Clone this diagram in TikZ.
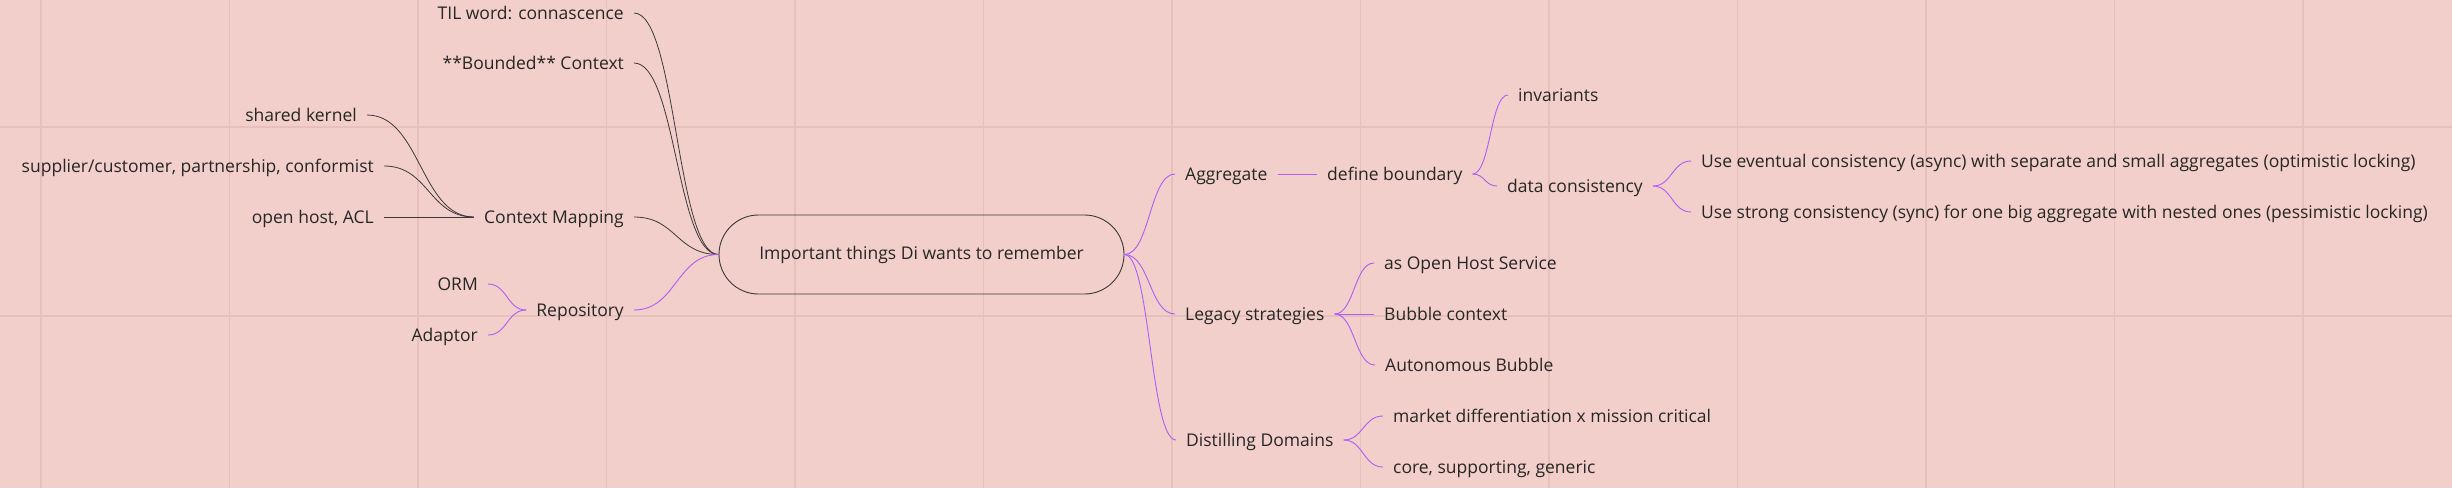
\documentclass[tikz,border=0pt]{standalone}
\usepackage{fontspec}
\setmainfont{Open Sans}
\usetikzlibrary{calc}
\definecolor{paper}{RGB}{242,207,202}
\definecolor{gridline}{RGB}{232,192,187}
\definecolor{ink}{RGB}{38,38,38}
\definecolor{wire}{RGB}{58,58,58}
\definecolor{mindpurple}{RGB}{176,92,246}
\tikzset{%
	root/.style      = {draw=wire, line width=0.9pt, rounded corners=39.5pt, minimum width=405pt, minimum height=79pt, inner sep=0pt}, % Central topic
	topic/.style     = {inner xsep=10pt, inner ysep=0pt, text height=15.4pt, text depth=3.1pt},
	lefttopic/.style = {topic, anchor=east}, % Branch on the left
	righttopic/.style= {topic, anchor=west}, % Branch on the right
	link/.style      = {draw=wire, line width=0.8pt},
	plink/.style     = {draw=mindpurple, line width=0.9pt},
	branch/.style    = {to path={let \p1=(\tikztostart), \p2=(\tikztotarget) in
		.. controls ({(\x1+\x2)/2},\y1) and ({(\x1+\x2)/2},\y2) .. (\tikztotarget)}}
}
\begin{document}
\begin{tikzpicture}[x=1pt, y=-1pt, every node/.style={font=\fontsize{17.5pt}{20pt}\selectfont, text=ink}]
	% Page and grid
	\fill[paper] (0,0) rectangle (2452,488);
	\useasboundingbox (0,0) rectangle (2452,488);
	\foreach \gx in {0,...,12}
		\draw[gridline, line width=1.6pt] ({41+188.5*\gx},0) -- ++(0,488);
	\foreach \gy in {127,316}
		\draw[gridline, line width=1.6pt] (0,\gy) -- ++(2452,0);

	\draw % Drawing the topics of the mind map :
	node at (921.5, 254.5) [root] (center) {Important things Di wants to remember}
	% left side
	node at (634, 13) [lefttopic] (til) {TIL word: connascence}
	node at (634, 63) [lefttopic] (bounded) {**Bounded** Context}
	node at (634, 217) [lefttopic] (ctxmap) {Context Mapping}
	node at (634, 310) [lefttopic] (repo) {Repository}
	node at (367, 115) [lefttopic] (kernel) {shared kernel}
	node at (384, 166) [lefttopic] (supplier) {supplier/customer, partnership, conformist}
	node at (384, 217) [lefttopic] (openhost) {open host, ACL}
	node at (488, 284) [lefttopic] (orm) {ORM}
	node at (488, 335) [lefttopic] (adaptor) {Adaptor}
	% right side
	node at (1175, 174) [righttopic] (aggregate) {Aggregate}
	node at (1317, 174) [righttopic] (boundary) {define boundary}
	node at (1508, 95) [righttopic] (invariants) {invariants}
	node at (1497, 186) [righttopic] (consist) {data consistency}
	node at (1691, 161) [righttopic] (eventual) {Use eventual consistency (async) with separate and small aggregates (optimistic locking)}
	node at (1691, 212) [righttopic] (strong) {Use strong consistency (sync) for one big aggregate with nested ones (pessimistic locking)}
	node at (1175, 314) [righttopic] (legacy) {Legacy strategies}
	node at (1374, 263) [righttopic] (ohs) {as Open Host Service}
	node at (1374, 314) [righttopic] (bubble) {Bubble context}
	node at (1375, 365) [righttopic] (autonomous) {Autonomous Bubble}
	node at (1176, 440) [righttopic] (distill) {Distilling Domains}
	node at (1383, 416) [righttopic] (market) {market differentiation x mission critical}
	node at (1383, 467) [righttopic] (core) {core, supporting, generic}
	;

	% Joining topics, left side
	\draw[link] (til.east) to[branch] (center.west);
	\draw[link] (bounded.east) to[branch] (center.west);
	\draw[link] (ctxmap.east) to[branch] (center.west);
	\draw[plink] (repo.east) to[branch] (center.west);
	\draw[link] (kernel.east) to[branch] (ctxmap.west);
	\draw[link] (supplier.east) to[branch] (ctxmap.west);
	\draw[link] (openhost.east) -- (ctxmap.west);
	\draw[plink] (orm.east) to[branch] (repo.west);
	\draw[plink] (adaptor.east) to[branch] (repo.west);

	% Joining topics, right side
	\draw[plink] (center.east) to[branch] (aggregate.west);
	\draw[plink] (center.east) to[branch] (legacy.west);
	\draw[plink] (center.east) to[branch] (distill.west);
	\draw[plink] (aggregate.east) -- (boundary.west);
	\draw[plink] (boundary.east) to[branch] (invariants.west);
	\draw[plink] (boundary.east) to[branch] (consist.west);
	\draw[plink] (consist.east) to[branch] (eventual.west);
	\draw[plink] (consist.east) to[branch] (strong.west);
	\draw[plink] (legacy.east) to[branch] (ohs.west);
	\draw[plink] (legacy.east) -- (bubble.west);
	\draw[plink] (legacy.east) to[branch] (autonomous.west);
	\draw[plink] (distill.east) to[branch] (market.west);
	\draw[plink] (distill.east) to[branch] (core.west);
\end{tikzpicture}
\end{document}
